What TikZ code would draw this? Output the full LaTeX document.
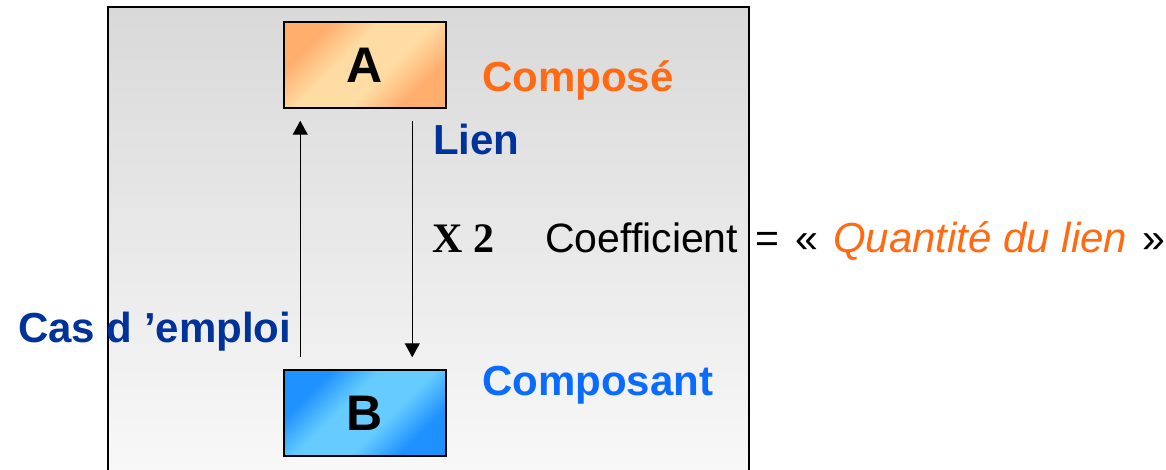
\documentclass[tikz,border=0pt]{standalone}
\usepackage{fontspec}
\setmainfont{Liberation Sans}
\newfontfamily\timesf{Liberation Serif}
\usetikzlibrary{calc,arrows.meta}
\definecolor{orangeT}{HTML}{FF6A13}
\definecolor{darkblueT}{HTML}{003399}
\definecolor{lightblueT}{HTML}{0A6CFF}
\definecolor{orA}{HTML}{FFAE6E}
\definecolor{orB}{HTML}{FFDCA4}
\definecolor{blA}{HTML}{1E90FF}
\definecolor{blB}{HTML}{66CCFF}
\pgfdeclarehorizontalshading{orsh}{100bp}{color(0bp)=(orA); color(28bp)=(orA); color(42bp)=(orB); color(58bp)=(orB); color(72bp)=(orA); color(100bp)=(orA)}
\pgfdeclarehorizontalshading{blsh}{100bp}{color(0bp)=(blA); color(28bp)=(blA); color(42bp)=(blB); color(58bp)=(blB); color(72bp)=(blA); color(100bp)=(blA)}
\tikzset{
  x=1pt, y=-1pt,
  lbl/.style={inner sep=0pt, anchor=base west, font=\fontsize{42}{48}\selectfont\bfseries},
  rlbl/.style={inner sep=0pt, anchor=base west, font=\fontsize{41}{48}\selectfont},
  boxA/.style={draw=black, line width=1.5pt, minimum width=162pt, minimum height=86pt, inner sep=0pt,
    shading=orsh, shading angle=-45,
    font=\fontsize{50}{56}\selectfont\bfseries},
  boxB/.style={boxA, shading=blsh},
  arr/.style={line width=1.2pt, -{Triangle[length=14pt,width=15pt]}},
}
\begin{document}
\begin{tikzpicture}
\useasboundingbox (0,0) rectangle (1166,470);
\fill[white] (0,0) rectangle (1166,470);
\shade[top color={rgb,255:red,217;green,217;blue,217}, bottom color={rgb,255:red,248;green,248;blue,248}] (108,7) rectangle (749,470);
\draw[line width=1.5pt] (108,470) -- (108,7) -- (749,7) -- (749,470);
\node[boxA] (A) at (365,65) {A};
\node[boxB] (B) at (365,413) {B};
\coordinate (upS) at ($(B.north west)+(17,-12)$);
\coordinate (upE) at ($(A.south west)+(17,12)$);
\coordinate (dnS) at ($(A.south west)+(129,12)$);
\coordinate (dnE) at ($(B.north west)+(129,-12)$);
\draw[arr] (upS) -- (upE);
\draw[arr] (dnS) -- (dnE);
\node[lbl, text=orangeT] (compose) at (482,92) {Composé};
\node[lbl, text=darkblueT] (lien) at (433,155) {Lien};
\node[lbl, font=\fontsize{42}{48}\selectfont\timesf\bfseries] (x2) at (432,252) {X 2};
\node[rlbl] (coef) at (545,252) {Coefficient};
\node[rlbl] (eq) at (755,252) {=};
\node[rlbl] (lq) at (795,252) {«};
\node[rlbl, text=orangeT, font=\fontsize{42}{48}\selectfont\itshape] (qte) at (833,252) {Quantité du lien};
\node[rlbl] (rq) at (1142,252) {»};
\node[lbl, text=darkblueT] (cas) at (18,342) {Cas d ’emploi};
\node[lbl, text=lightblueT] (composant) at (482,395) {Composant};
\end{tikzpicture}
\end{document}
